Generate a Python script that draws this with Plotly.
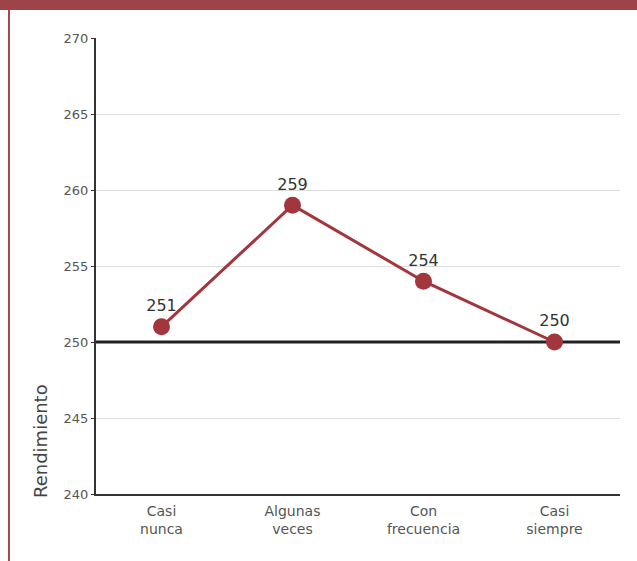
import plotly.graph_objects as go

categories = ["Casi<br>nunca", "Algunas<br>veces", "Con<br>frecuencia", "Casi<br>siempre"]
values = [251, 259, 254, 250]
y_ticks = [240, 245, 250, 255, 260, 265, 270]
reference_value = 250

W, H = 637, 561
L, R, T, B = 96, 17, 38, 67
pw = W - L - R
ph = H - T - B

def px_x(px):
    return (px - L) / pw

def px_y(py):
    return (H - B - py) / ph

maroon = "#a3353c"
font = "DejaVu Sans, sans-serif"
n = len(categories)

fig = go.Figure()
fig.add_trace(go.Scatter(
    x=[-0.5, n - 0.5], y=[reference_value, reference_value],
    mode="lines", line=dict(color="#222222", width=3),
    hoverinfo="skip", cliponaxis=False,
))
fig.add_trace(go.Scatter(
    x=list(range(n)), y=values,
    mode="lines+markers+text",
    line=dict(color=maroon, width=3),
    marker=dict(color=maroon, size=17),
    text=[str(v) for v in values],
    textposition="top center",
    textfont=dict(family=font, size=16, color="#333333"),
    cliponaxis=False,
    hoverinfo="skip",
))

shapes = [
    dict(type="rect", xref="paper", yref="paper", x0=px_x(0), x1=px_x(W), y0=px_y(10), y1=px_y(0),
         fillcolor="#9e4448", line=dict(width=0)),
    dict(type="line", xref="paper", yref="paper", x0=px_x(9), x1=px_x(9), y0=px_y(H), y1=px_y(10),
         line=dict(color="#a8474b", width=2)),
]

fig.update_layout(
    width=W, height=H,
    margin=dict(l=L, r=R, t=T, b=B),
    paper_bgcolor="white", plot_bgcolor="white",
    showlegend=False,
    font=dict(family=font, color="#444444"),
    shapes=shapes,
    xaxis=dict(
        tickmode="array", tickvals=list(range(n)), ticktext=categories,
        range=[-0.5, n - 0.5],
        showgrid=False, zeroline=False,
        showline=True, linecolor="#333333", linewidth=2,
        tickfont=dict(family=font, size=14, color="#555555"),
        ticks="outside", ticklen=3, tickcolor="rgba(0,0,0,0)",
    ),
    yaxis=dict(
        range=[240, 270], tickvals=y_ticks,
        showgrid=True, gridcolor="#dddddd", gridwidth=1,
        zeroline=False,
        showline=True, linecolor="#333333", linewidth=2,
        ticks="outside", ticklen=3, tickcolor="#333333",
        tickfont=dict(family=font, size=13, color="#555555"),
    ),
    annotations=[dict(
        text="Rendimiento", textangle=-90, xref="paper", yref="paper",
        x=px_x(40), y=px_y(441), xanchor="center", yanchor="middle", showarrow=False,
        font=dict(family=font, size=18, color="#444444"),
    )],
)

fig.write_html("out.html", post_script="document.body.style.margin='0';",
               config={"displayModeBar": False})
